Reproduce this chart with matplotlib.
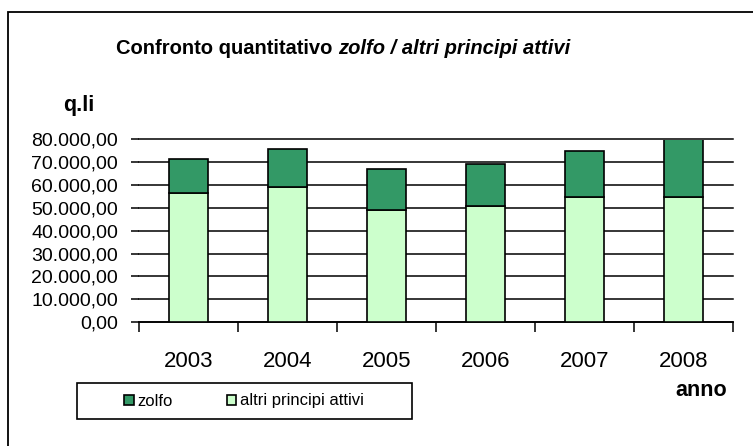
import numpy as np
import matplotlib.pyplot as plt
from matplotlib.patches import Rectangle
from matplotlib.ticker import FuncFormatter

plt.rcParams['font.family'] = ['Liberation Sans', 'DejaVu Sans']

# Quantities in quintals per year
anni = ['2003', '2004', '2005', '2006', '2007', '2008']
altri_principi = [56400, 59200, 49100, 50900, 54900, 55000]
zolfo = [14900, 16600, 18000, 18200, 20200, 25000]

verde_scuro = '#339966'
verde_chiaro = '#CCFFCC'

fig = plt.figure(figsize=(7.53, 4.46), dpi=100)
ax = fig.add_axes([139 / 753, 1 - 322 / 446, 594 / 753, 182.5 / 446])

x = np.arange(len(anni))
ax.bar(x, altri_principi, width=0.40, color=verde_chiaro, edgecolor='black',
       linewidth=1.2, label='altri principi attivi', zorder=3)
ax.bar(x, zolfo, width=0.40, bottom=altri_principi, color=verde_scuro,
       edgecolor='black', linewidth=1.2, label='zolfo', zorder=3)

ax.set_xlim(-0.5, len(anni) - 0.5)
ax.set_ylim(0, 80000)


def formato_it(v, pos):
    s = f'{v:,.2f}'
    return s.replace(',', 'X').replace('.', ',').replace('X', '.')


ax.set_yticks(np.arange(0, 80001, 10000))
ax.yaxis.set_major_formatter(FuncFormatter(formato_it))
ax.yaxis.grid(True, color='black', linewidth=1.1, zorder=0)
for g in ax.get_ygridlines():
    g.set_clip_on(False)
ax.tick_params(axis='y', direction='out', length=6, width=1.1, labelsize=14, pad=9)

# category labels centred, tick marks between categories
ax.set_xticks(np.arange(-0.5, len(anni)), minor=False)
ax.set_xticklabels([''] * (len(anni) + 1))
ax.set_xticks(x, minor=True)
ax.set_xticklabels(anni, minor=True, fontsize=16)
ax.tick_params(axis='x', which='major', direction='out', length=7, width=1.1)
ax.tick_params(axis='x', which='minor', length=0, pad=21)

for side in ['left', 'right', 'top']:
    ax.spines[side].set_visible(False)
ax.spines['bottom'].set_linewidth(1.2)

# titles and axis names
fig.text(116 / 753, 1 - 48 / 446, 'Confronto quantitativo', fontsize=14.5,
         fontweight='bold', va='center', ha='left')
fig.text(338 / 753, 1 - 48 / 446, 'zolfo / altri principi attivi', fontsize=14.5,
         fontweight='bold', fontstyle='italic', va='center', ha='left')
fig.text(79 / 753, 1 - 106 / 446, 'q.li', fontsize=15.5, fontweight='bold',
         va='center', ha='center')
fig.text(701 / 753, 1 - 391 / 446, 'anno', fontsize=15.5, fontweight='bold',
         va='center', ha='center')

# outer chart frame
fig.patches.append(Rectangle((8 / 753, -0.1), 1.2, 1 - 12 / 446 + 0.1,
                             transform=fig.transFigure, fill=False,
                             edgecolor='black', linewidth=1.3))

# legend box
fig.patches.append(Rectangle((77 / 753, 1 - 419 / 446), 335 / 753, 36 / 446,
                             transform=fig.transFigure, fill=False,
                             edgecolor='black', linewidth=1.2))
handles, labels = ax.get_legend_handles_labels()
fig.legend(handles[::-1], labels[::-1], loc='center',
           bbox_to_anchor=(244 / 753, 1 - 401 / 446), ncol=2, frameon=False,
           fontsize=12, handlelength=0.55, handleheight=0.55, handletextpad=0.2,
           columnspacing=3.3)

fig.savefig('out.png', dpi=100)
